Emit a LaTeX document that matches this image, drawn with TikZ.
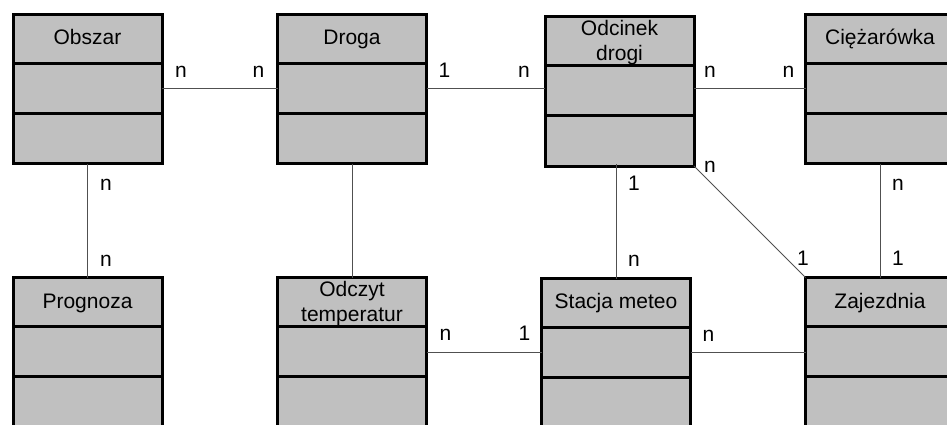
\documentclass[tikz,border=0pt]{standalone}
\usepackage{fontspec}
\setmainfont{Liberation Sans}
\usetikzlibrary{calc}

\definecolor{boxgray}{HTML}{C0C0C0}
\definecolor{linkgray}{HTML}{505050}
\newcommand\umlfont{\fontsize{21}{24.5}\selectfont}

\tikzset{
  classbody/.style={rectangle, draw=black, fill=boxgray, line width=3pt,
    minimum width=149pt, minimum height=149pt, inner sep=0pt, outer sep=0pt},
  classtitle/.style={anchor=base, inner sep=0pt, font=\umlfont},
  divider/.style={draw=black, line width=3pt},
  link/.style={draw=linkgray, line width=1pt},
  mult/.style={anchor=base, inner sep=0pt, font=\umlfont},
}

% class box with a title compartment and two empty compartments
% #1 name, #2 centre, #3 baseline offset of the title, #4 title
\newcommand\classbox[4]{%
  \node[classbody] (#1) at (#2) {};
  \node[classtitle] (#1-title) at ($(#1.north)+(0,#3)$)
    {\begin{tabular}[t]{@{}c@{}}#4\end{tabular}};
  \draw[divider] ($(#1.north west)+(0,49)$) -- ($(#1.north east)+(0,49)$);
  \draw[divider] ($(#1.north west)+(0,99)$) -- ($(#1.north east)+(0,99)$);
}

\begin{document}
\begin{tikzpicture}[x=1pt, y=-1pt]
  \useasboundingbox (0,0) rectangle (947,425);
  \clip (0,0) rectangle (947,425);

  % top row
  \classbox{obszar}{87.5,89}{30.5}{Obszar}
  \classbox{droga}{352,89}{30.5}{Droga}
  \classbox{odcinek}{619.5,91.5}{19}{Odcinek\\drogi}
  \classbox{ciezarowka}{880,89}{30.5}{Ciężarówka}

  % bottom row
  \classbox{prognoza}{87.5,352}{30.5}{Prognoza}
  \classbox{odczyt}{352,352}{19}{Odczyt\\temperatur}
  \classbox{stacja}{616,353}{30}{Stacja meteo}
  \classbox{zajezdnia}{880,352}{30.5}{Zajezdnia}

  % associations
  \coordinate (os-top) at ($(stacja.north |- odcinek.south)+(0,-2)$);
  \draw[link] (obszar.east) -- (droga.west);
  \draw[link] (droga.east) -- (droga.east -| odcinek.west);
  \draw[link] (odcinek.east |- ciezarowka.west) -- (ciezarowka.west);
  \draw[link] (obszar.south) -- (prognoza.north);
  \draw[link] (droga.south) -- (odczyt.north);
  \draw[link] (os-top) -- (stacja.north);
  \draw[link] (odcinek.south east) -- (zajezdnia.north west);
  \draw[link] (ciezarowka.south) -- (zajezdnia.north);
  \draw[link] (odczyt.east) -- (odczyt.east -| stacja.west);
  \draw[link] (stacja.east |- zajezdnia.west) -- (zajezdnia.west);

  % multiplicities
  \node[mult] (m-ob-dr) at ($(obszar.east)+(19,-11)$) {n};
  \node[mult] (m-dr-ob) at ($(droga.west)+(-19,-11)$) {n};
  \node[mult] (m-dr-od) at ($(droga.east)+(18,-11)$) {1};
  \node[mult] (m-od-dr) at ($(droga.east -| odcinek.west)+(-21,-11)$) {n};
  \node[mult] (m-od-ci) at ($(odcinek.east |- ciezarowka.west)+(16,-11)$) {n};
  \node[mult] (m-ci-od) at ($(ciezarowka.west)+(-17,-11)$) {n};
  \node[mult] (m-ob-pr) at ($(obszar.south)+(18.5,26.5)$) {n};
  \node[mult] (m-pr-ob) at ($(prognoza.north)+(18.5,-11.5)$) {n};
  \node[mult] (m-od-st) at ($(os-top)+(18,26.5)$) {1};
  \node[mult] (m-st-od) at ($(stacja.north)+(18,-12.5)$) {n};
  \node[mult] (m-od-za) at ($(odcinek.south east)+(16,6)$) {n};
  \node[mult] (m-za-od) at ($(zajezdnia.north west)+(-2.5,-12.5)$) {1};
  \node[mult] (m-ci-za) at ($(ciezarowka.south)+(18,26.5)$) {n};
  \node[mult] (m-za-ci) at ($(zajezdnia.north)+(18,-12.5)$) {1};
  \node[mult] (m-oc-st) at ($(odczyt.east)+(19,-12)$) {n};
  \node[mult] (m-st-oc) at ($(odczyt.east -| stacja.west)+(-17,-12)$) {1};
  \node[mult] (m-st-za) at ($(stacja.east |- zajezdnia.west)+(18,-11)$) {n};
\end{tikzpicture}
\end{document}
